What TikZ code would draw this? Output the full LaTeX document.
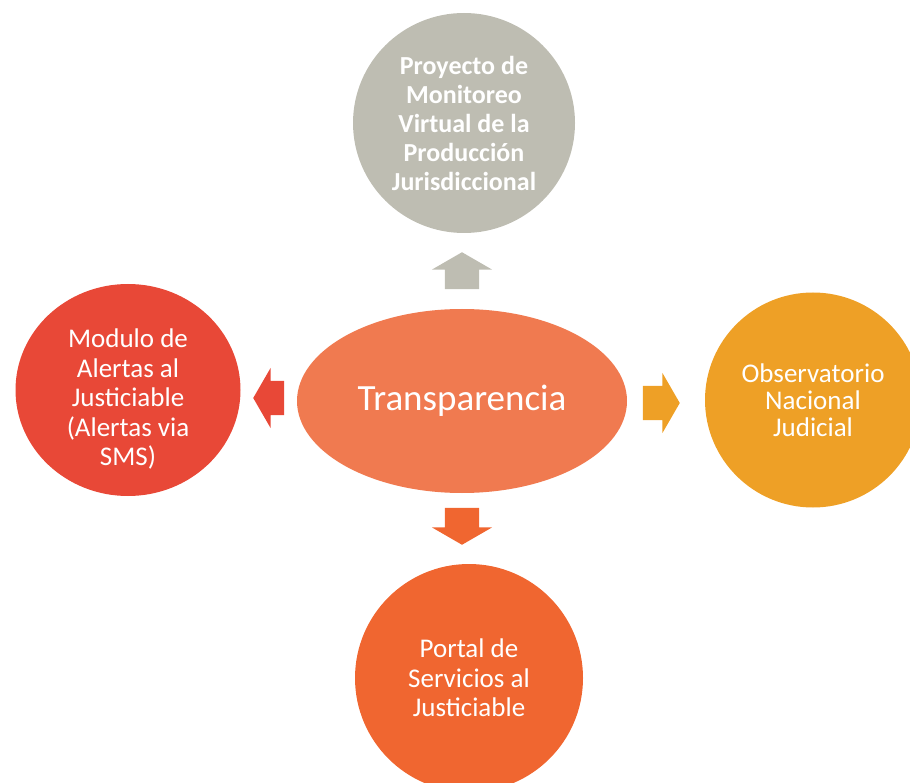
\documentclass[tikz,border=0pt]{standalone}
\usepackage{fontspec}
\setmainfont{Carlito}
\usetikzlibrary{shapes.geometric,shapes.arrows}

\definecolor{grisproy}{RGB}{190,189,178}
\definecolor{rojoalerta}{RGB}{232,72,55}
\definecolor{naranjacentro}{RGB}{240,122,80}
\definecolor{ambarobs}{RGB}{238,160,38}
\definecolor{naranjaportal}{RGB}{240,102,48}

\begin{document}
\begin{tikzpicture}[x=1pt,y=-1pt,
                    tema/.style={ellipse,fill,text=white,align=center,inner sep=0pt,
                                 font=\fontsize{27}{29.5}\selectfont},
                    flecha/.style={single arrow,fill,anchor=tip,inner xsep=1pt,inner ysep=17pt,
                                   minimum height=37pt,single arrow head extend=13pt,
                                   single arrow tip angle=120}]
  \useasboundingbox (0,0) rectangle (910,783);
  \clip (0,0) rectangle (910,783);
  % nodo central
  \node[ellipse,fill=naranjacentro,minimum width=330pt,minimum height=184pt,
        text=white,font=\fontsize{37}{42}\selectfont] (centro) at (462,401) {Transparencia};
  % temas alrededor
  \node[tema,fill=grisproy,minimum width=222pt,minimum height=220pt,
        font=\fontsize{26}{29}\selectfont\bfseries]
    (proy) at (464,123) {Proyecto de\\Monitoreo\\Virtual de la\\Producción\\Jurisdiccional};
  \node[tema,fill=rojoalerta,minimum width=225pt,minimum height=212pt] (alertas) at (128,390) {};
  \node[text=white,align=center,font=\fontsize{27}{29.5}\selectfont] (alertas-texto)
    at ([yshift=-9pt]alertas.center) {Modulo de\\Alertas al\\Justiciable\\(Alertas via\\SMS)};
  \node[tema,fill=ambarobs,minimum width=216pt,minimum height=215pt,
        font=\fontsize{27}{27}\selectfont]
    (obs) at (813,400) {Observatorio\\Nacional\\Judicial};
  \node[tema,fill=naranjaportal,minimum width=228pt,minimum height=228pt]
    (portal) at (469,678) {Portal de\\Servicios al\\Justiciable};
  % flechas
  \node[flecha,fill=grisproy,rotate=90] (fa) at (462,252) {};
  \node[flecha,fill=rojoalerta,rotate=180,minimum height=31pt] (fi) at (253,398) {};
  \node[flecha,fill=ambarobs] (fd) at (680,403) {};
  \node[flecha,fill=naranjaportal,rotate=270] (fb) at (462,545) {};
\end{tikzpicture}
\end{document}
